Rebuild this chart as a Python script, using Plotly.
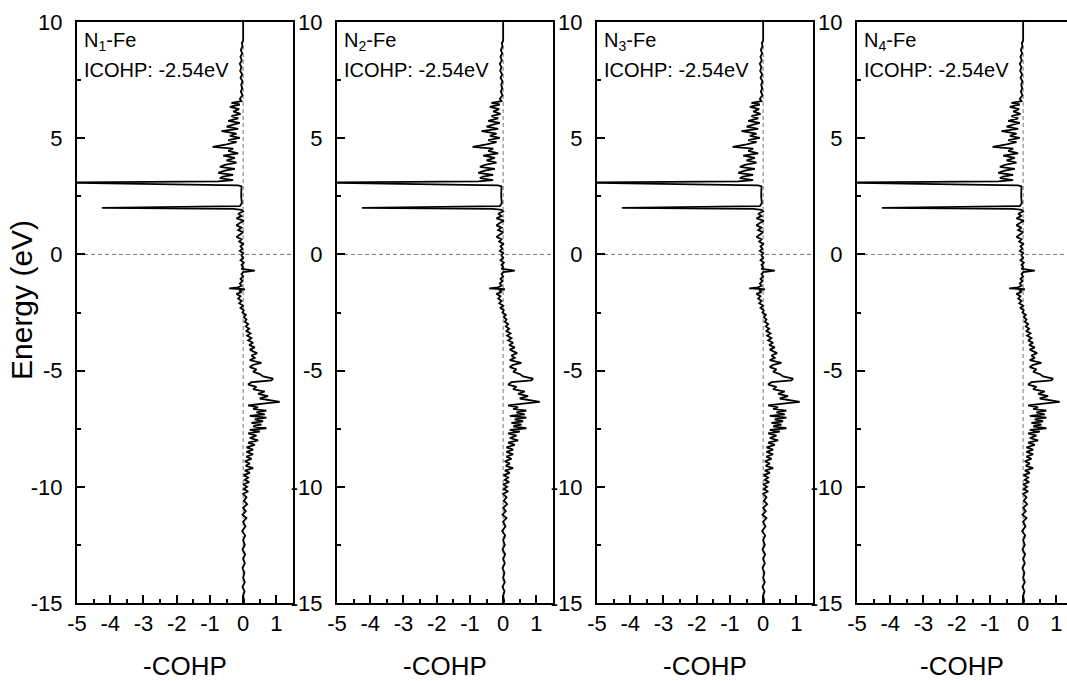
import plotly.graph_objects as go

# Energy (eV) and -COHP values (same curve in all 4 panels)
energy = [10.0, 9.2, 9.1, 8.95, 8.8, 8.65, 8.5, 8.35, 8.2, 8.05, 7.9, 7.75, 7.6, 7.45, 7.3, 7.15, 7.0, 6.85, 6.7, 6.6,
          6.52, 6.45, 6.35, 6.25, 6.15, 6.05, 5.95, 5.85, 5.75, 5.66, 5.58, 5.5, 5.4, 5.3, 5.2, 5.1, 5.01, 4.92, 4.83, 4.73,
          4.63, 4.55, 4.45, 4.35, 4.25, 4.15, 4.05, 3.95, 3.85, 3.77, 3.68, 3.6, 3.51, 3.42, 3.35, 3.28, 3.2, 3.14,
          3.09, 2.97, 2.93, 2.5, 2.2, 2.08, 2.0, 1.96, 1.92,
          1.85, 1.75, 1.65, 1.55, 1.45, 1.35, 1.25, 1.15, 1.05, 0.95, 0.85, 0.75, 0.65, 0.55, 0.45, 0.35, 0.25, 0.15, 0.05,
          -0.05, -0.15, -0.25, -0.35, -0.45, -0.55, -0.62, -0.7, -0.76, -0.85, -0.95, -1.05, -1.15, -1.25, -1.35, -1.42,
          -1.46, -1.5, -1.55, -1.62, -1.7, -1.8, -1.9, -2.0, -2.1, -2.2, -2.3, -2.4, -2.5, -2.6, -2.7, -2.8, -2.9, -3.0,
          -3.1, -3.2, -3.3, -3.4,
          -3.5, -3.6, -3.7, -3.8, -3.9, -4.0, -4.1, -4.25, -4.35, -4.45, -4.55, -4.67, -4.75, -4.85, -4.95, -5.05, -5.15,
          -5.25, -5.35, -5.42, -5.5, -5.6, -5.7, -5.8, -5.9, -6.0, -6.1, -6.2, -6.28, -6.35, -6.42, -6.5, -6.58, -6.65,
          -6.72, -6.8, -6.88, -6.95, -7.02, -7.1, -7.18, -7.25, -7.32, -7.4, -7.48, -7.55, -7.62, -7.7, -7.8, -7.9, -8.0,
          -8.1, -8.2, -8.3, -8.4, -8.5,
          -8.6, -8.7, -8.8, -8.9, -9.0, -9.1, -9.2, -9.3, -9.4, -9.5, -9.6, -9.7, -9.8, -9.9, -10.0, -10.1, -10.2, -10.3,
          -10.45, -10.6, -10.75, -10.9, -11.05, -11.2, -11.35, -11.5, -11.7, -11.9, -12.1, -12.3, -12.5, -12.7, -12.9,
          -13.1, -13.3, -13.5, -13.7, -13.9, -14.1, -14.3, -14.5, -14.7, -14.9, -15.2]
cohp = [0.0, 0.0, -0.04, -0.02, -0.07, -0.03, -0.08, -0.04, -0.1, -0.05, -0.09, -0.03, -0.08, -0.02, -0.06, -0.03, -0.07, -0.02, -0.1, -0.05,
        -0.35, -0.1, -0.4, -0.12, -0.3, -0.08, -0.35, -0.15, -0.45, -0.1, -0.3, -0.5, -0.15, -0.65, -0.2, -0.4, -0.1, -0.45, -0.2, -0.5,
        -0.92, -0.3, -0.45, -0.15, -0.6, -0.25, -0.5, -0.2, -0.55, -0.7, -0.25, -0.55, -0.75, -0.3, -0.6, -0.7, -0.3, -0.75,
        -5.5, -0.15, -0.05, -0.06, -0.04, -0.1, -4.25, -0.3, -0.05,
        0.0, -0.15, -0.05, -0.2, 0.02, -0.1, -0.2, -0.05, -0.15, 0.0, -0.1, -0.2, -0.05, -0.12, 0.0, -0.08, -0.02, -0.1, 0.0,
        -0.05, 0.0, -0.08, 0.02, -0.05, 0.0, -0.05, 0.35, 0.0, -0.05, 0.0, -0.08, -0.02, -0.1, -0.05, -0.15,
        -0.42, 0.05, -0.12, -0.05, -0.2, -0.08, -0.15, -0.05, -0.12, 0.0, -0.08, 0.02, -0.02, 0.08, 0.02, 0.1, 0.05, 0.15,
        0.08, 0.18, 0.1, 0.22,
        0.12, 0.25, 0.15, 0.3, 0.18, 0.35, 0.2, 0.42, 0.25, 0.35, 0.2, 0.55, 0.3, 0.2, 0.4, 0.3, 0.5,
        0.6, 0.9, 0.85, 0.25, 0.15, 0.4, 0.3, 0.65, 0.45, 0.75, 0.5, 0.8, 1.1, 0.6, 0.15, 0.45, 0.3,
        0.7, 0.4, 0.65, 0.2, 0.7, 0.35, 0.6, 0.25, 0.55, 0.3, 0.7, 0.2, 0.5, 0.15, 0.4, 0.2, 0.45,
        0.15, 0.35, 0.1, 0.3, 0.1,
        0.3, 0.1, 0.25, 0.05, 0.2, 0.08, 0.3, 0.05, 0.2, 0.02, 0.15, 0.05, 0.18, 0.0, 0.12, 0.02, 0.15, 0.0,
        0.1, 0.02, 0.12, 0.0, 0.08, -0.02, 0.1, 0.0, 0.07, -0.03, 0.06, 0.0, 0.05, -0.02, 0.06,
        0.0, 0.05, -0.02, 0.04, 0.0, 0.05, -0.02, 0.04, 0.0, 0.03, 0.0]

panel_labels = ["N<sub>1</sub>-Fe", "N<sub>2</sub>-Fe", "N<sub>3</sub>-Fe", "N<sub>4</sub>-Fe"]
icohp_text = "ICOHP: -2.54eV"
x_title = "-COHP"
y_title = "Energy (eV)"
x_tickvals = [-5, -4, -3, -2, -1, 0, 1]
x_ticktext = ["-5", "-4", "-3", "-2", "-1", "0", "1"]
y_tickvals = [-15, -10, -5, 0, 5, 10]
y_ticktext = ["-15", "-10", "-5", "0", "5", "10"]

FONT = "Liberation Sans, Arial, sans-serif"
W, H = 1067, 681
ML, MR, MT, MB = 77, 0, 22, 78
pw = W - ML - MR
ph = H - MT - MB
domains = [(0, 216), (260, 476), (520, 736), (780, 990)]
xranges = [[-5, 1.5], [-5, 1.5], [-5, 1.5], [-5, 1.32]]

fig = go.Figure()
layout = dict(width=W, height=H, margin=dict(l=ML, r=MR, t=MT, b=MB),
              paper_bgcolor="white", plot_bgcolor="white", showlegend=False,
              font=dict(family=FONT, color="black", size=22))
annotations = []
shapes = []
for i in range(4):
    sfx = "" if i == 0 else str(i + 1)
    xa, ya = "x" + sfx, "y" + sfx
    fig.add_trace(go.Scatter(x=cohp, y=energy, mode="lines", xaxis=xa, yaxis=ya,
                             line=dict(color="black", width=1.8), hoverinfo="skip"))
    d0, d1 = domains[i]
    layout["xaxis" + sfx] = dict(
        domain=[d0 / pw, d1 / pw], range=xranges[i], anchor=ya,
        showline=True, linecolor="black", linewidth=2, mirror=True,
        showgrid=False, zeroline=False,
        tickmode="array", tickvals=x_tickvals, ticktext=x_ticktext,
        ticks="inside", ticklen=8, tickwidth=2, tickcolor="black",
        minor=dict(dtick=0.5, tick0=0, ticks="inside", ticklen=4, tickwidth=2, tickcolor="black", showgrid=False),
        tickfont=dict(size=22, family=FONT), ticklabelstandoff=0,
        title=dict(text=x_title, font=dict(size=26, family=FONT), standoff=24))
    layout["yaxis" + sfx] = dict(
        domain=[0, 1], range=[-15, 10], anchor=xa,
        showline=True, linecolor="black", linewidth=2, mirror=(i < 3),
        showgrid=False, zeroline=False,
        tickmode="array", tickvals=y_tickvals, ticktext=y_ticktext,
        ticks="inside", ticklen=8, tickwidth=2, tickcolor="black",
        minor=dict(dtick=2.5, tick0=0, ticks="inside", ticklen=4, tickwidth=2, tickcolor="black", showgrid=False),
        tickfont=dict(size=22, family=FONT), ticklabelstandoff=8)
    shapes.append(dict(type="line", xref=xa, yref=ya, x0=xranges[i][0], x1=xranges[i][1], y0=0, y1=0,
                       line=dict(color="#777777", width=1, dash="4px,3px"), layer="below"))
    shapes.append(dict(type="line", xref=xa, yref=ya, x0=0, x1=0, y0=-15, y1=10,
                       line=dict(color="#777777", width=1, dash="4px,3px"), layer="below"))
    annotations.append(dict(text=panel_labels[i], xref=xa + " domain", yref=ya + " domain",
                            x=0.025, y=0.966, xanchor="left", yanchor="middle", showarrow=False,
                            font=dict(size=20, family=FONT)))
    annotations.append(dict(text=icohp_text, xref=xa + " domain", yref=ya + " domain",
                            x=0.025, y=0.917, xanchor="left", yanchor="middle", showarrow=False,
                            font=dict(size=20, family=FONT)))

annotations.append(dict(text=y_title, xref="paper", yref="paper", textangle=-90,
                        x=(21 - ML) / pw, y=1 - (300 - MT) / ph, xanchor="center", yanchor="middle",
                        showarrow=False, font=dict(size=30, family=FONT)))

layout["annotations"] = annotations
layout["shapes"] = shapes
fig.update_layout(**layout)
fig.write_html("out.html")
